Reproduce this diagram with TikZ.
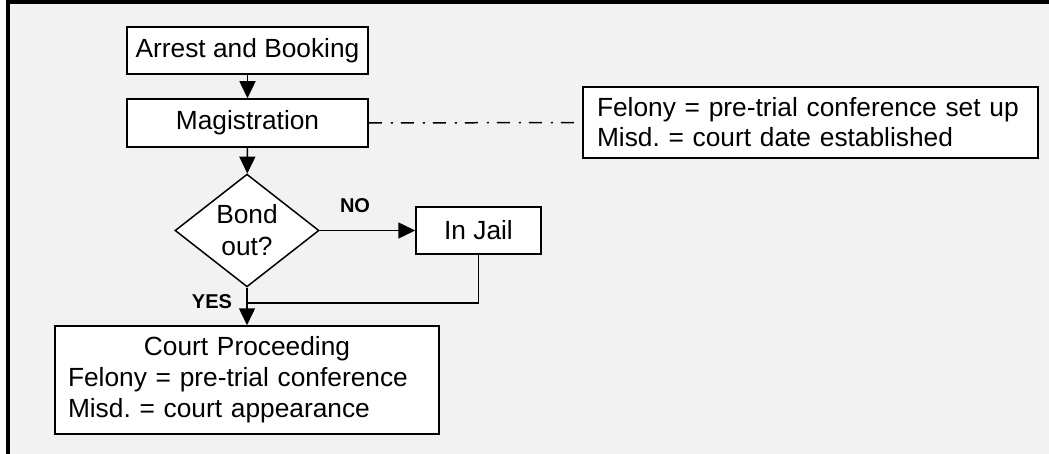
\documentclass[tikz,border=0pt]{standalone}
\usepackage{fontspec}
\setmainfont{Liberation Sans}
\usetikzlibrary{shapes.geometric,arrows.meta}
\definecolor{panel}{HTML}{F2F2F2}
\frenchspacing
\begin{document}
\begin{tikzpicture}[x=0.5pt,y=-0.5pt,
  every node/.style={font=\fontsize{13.15}{16}\selectfont},
  box/.style={draw=black,line width=0.75pt,fill=white,inner sep=0pt,align=center},
  decision/.style={draw=black,line width=0.75pt,fill=white,diamond,inner sep=0pt,
    minimum width=72pt,minimum height=53.5pt,align=center},
  flow/.style={line width=0.75pt,-{Triangle[length=8.5pt,width=8pt]}},
  plain/.style={line width=0.75pt},
  dashdot/.style={line width=0.75pt,dash pattern=on 6.5pt off 4.5pt on 1pt off 4pt},
  tag/.style={font=\fontsize{10}{12}\selectfont\bfseries,inner sep=0pt}]
  \useasboundingbox (0,0) rectangle (1049,454);
  % panel background and its frame
  \fill[panel] (8,2) rectangle (1049,454);
  \draw[line width=1.75pt] (8,454) -- (8,2) -- (1049,2);

  % process steps
  \node[box,minimum width=120.5pt,minimum height=23.5pt] (arrest) at (247.5,50.5) {Arrest and Booking};
  \node[box,minimum width=120.5pt,minimum height=24pt] (mag) at (247.5,123) {Magistration};
  \node[decision] (bond) at (247,230.5) {Bond\\out?};
  \node[box,minimum width=62.5pt,minimum height=23.5pt] (jail) at (478.5,230.5) {In Jail};
  \node[box,minimum width=192pt,minimum height=54pt,text width=179pt,inner xsep=6.5pt,
        align=left,font=\fontsize{13.15}{15.5}\selectfont] (court) at (247,380)
    {\makebox[\linewidth]{Court Proceeding}\\Felony = pre-trial conference\\Misd. = court appearance};
  \node[box,minimum width=227.5pt,minimum height=35.5pt,text width=213.5pt,inner xsep=7pt,
        align=left,font=\fontsize{13.15}{15}\selectfont] (note) at (810.5,122.5)
    {Felony = pre-trial conference set up\\Misd. = court date established};

  % branch labels
  \node[tag] (no) at (355,206) {NO};
  \node[tag] (yes) at (212,302) {YES};
  \coordinate (merge) at (247,303);

  % connectors
  \draw[flow] (arrest) -- (mag);
  \draw[flow] (mag) -- (bond);
  \draw[flow] (bond) -- (jail);
  \draw[flow] (bond) -- (court);
  \draw[plain] (jail.south) |- (merge);
  \draw[dashdot] (mag.east) -- (note.west);
\end{tikzpicture}
\end{document}
